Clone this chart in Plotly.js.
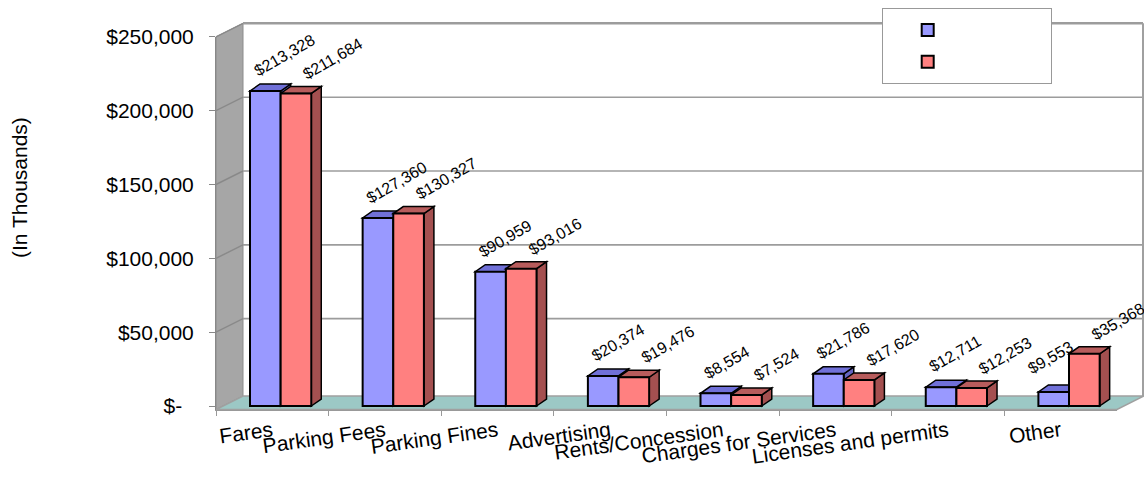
<!DOCTYPE html>
<html>
<head>
<meta charset="utf-8">
<script src="https://cdn.plot.ly/plotly-3.0.1.min.js"></script>
<style>html,body{margin:0;padding:0;background:#fff;}#chart{width:1144px;height:483px;}</style>
</head>
<body>
<div id="chart"></div>
<script>
// ---- data ----
const categories = ['Fares', 'Parking Fees', 'Parking Fines', 'Advertising', 'Rents/Concession', 'Charges for Services', 'Licenses and permits', 'Other'];
const seriesA = [213328, 127360, 90959, 20374, 8554, 21786, 12711, 9553];
const seriesB = [211684, 130327, 93016, 19476, 7524, 17620, 12253, 35368];
const seriesNames = ['\u00a0'.repeat(16), '\u00a0'.repeat(16)];
const yTickVals = [0, 50000, 100000, 150000, 200000, 250000];
const yTickText = ['$-\u00a0\u00a0', '$50,000', '$100,000', '$150,000', '$200,000', '$250,000'];
const yTitle = '(In Thousands)';

// ---- geometry / style ----
const W = 1144, H = 483;
const FONT = 'Liberation Sans, Arial, sans-serif';
const xL = 216, xR = 1117;            // front axis pixel extent
const yBot = 409.5, yTop = 36.85;     // front y-axis pixel extent
const yMin = -2370, yMax = 250000;
const pxPerUnit = (yBot - yTop) / (yMax - yMin);
const pxPerCat = (xR - xL) / categories.length;
const wallDX = 27, wallDY = 13.5;
const barW = 0.272, offA = -0.198, offB = offA + barW;
const depthX = 10 / pxPerCat, depthY = 7 / pxPerUnit;

const colA = '#9999ff', colATop = '#7070d8', colASide = '#6464c0';
const colB = '#ff8080', colBTop = '#b85c5c', colBSide = '#a45050';

const PX = px => px / W;
const PY = py => 1 - py / H;
const pyOf = v => yBot - (v - yMin) * pxPerUnit;

const shapes = [];
// left wall
const lw = `M${PX(xL)},${PY(yBot)} L${PX(xL)},${PY(pyOf(yMax))} L${PX(xL + wallDX)},${PY(pyOf(yMax) - wallDY)} L${PX(xL + wallDX)},${PY(yBot - wallDY)} Z`;
shapes.push({type: 'path', xref: 'paper', yref: 'paper', path: lw, fillcolor: '#a6a6a6', line: {color: '#8c8c8c', width: 1}, layer: 'below'});
// floor
const fl = `M${PX(xL)},${PY(yBot)} L${PX(xR)},${PY(yBot)} L${PX(xR + wallDX)},${PY(yBot - wallDY)} L${PX(xL + wallDX)},${PY(yBot - wallDY)} Z`;
shapes.push({type: 'path', xref: 'paper', yref: 'paper', path: fl, fillcolor: '#9cc8c5', line: {color: '#a0a0a0', width: 1.5}, layer: 'below'});
// grid lines on back wall and side wall
yTickVals.forEach(v => {
  if (v === 0) return;
  const yf = pyOf(v), yb = yf - wallDY;
  shapes.push({type: 'line', xref: 'paper', yref: 'paper', x0: PX(xL), y0: PY(yf), x1: PX(xL + wallDX), y1: PY(yb), line: {color: '#8a8a8a', width: 1.5}, layer: 'below'});
  shapes.push({type: 'line', xref: 'paper', yref: 'paper', x0: PX(xL + wallDX), y0: PY(yb), x1: PX(1143), y1: PY(yb), line: {color: '#9c9c9c', width: v === yMax ? 2.5 : 1.6}, layer: 'below'});
});
// back wall right edge
shapes.push({type: 'line', xref: 'paper', yref: 'paper', x0: PX(1143), y0: PY(pyOf(yMax) - wallDY), x1: PX(1143), y1: PY(yBot - wallDY), line: {color: '#a0a0a0', width: 2}, layer: 'below'});

// 3D faces of bars (drawn below the bar fronts)
function faces(off, vals, top, side) {
  vals.forEach((v, i) => {
    const l = i + off, r = l + barW;
    shapes.push({type: 'path', xref: 'x', yref: 'y', layer: 'below',
      path: `M${r},0 L${r + depthX},${depthY} L${r + depthX},${v + depthY} L${r},${v} Z`,
      fillcolor: side, line: {color: '#000', width: 1.5}});
    shapes.push({type: 'path', xref: 'x', yref: 'y', layer: 'below',
      path: `M${l},${v} L${r},${v} L${r + depthX},${v + depthY} L${l + depthX},${v + depthY} Z`,
      fillcolor: top, line: {color: '#000', width: 1.5}});
  });
}
faces(offA, seriesA, colATop, colASide);
faces(offB, seriesB, colBTop, colBSide);

const fmt = v => '$' + v.toLocaleString('en-US');
const annotations = [];
const labelFont = {family: FONT, size: 16, color: '#000'};
seriesA.forEach((v, i) => {
  // move the label left when the neighbouring bar is much taller (label would collide)
  const collide = (seriesB[i] - v) * pxPerUnit > 12;
  annotations.push({x: i + offA, y: v, xref: 'x', yref: 'y', text: fmt(v), showarrow: false, textangle: -30,
    xanchor: 'left', yanchor: 'bottom', xshift: collide ? -16 : -2, yshift: collide ? 12 : 9, font: labelFont});
});
seriesB.forEach((v, i) => annotations.push({x: i + offB, y: v, xref: 'x', yref: 'y', text: fmt(v), showarrow: false, textangle: -30,
  xanchor: 'left', yanchor: 'bottom', xshift: 17, yshift: 8, font: labelFont}));
annotations.push({xref: 'paper', yref: 'paper', x: PX(20), y: PY(188), xanchor: 'center', yanchor: 'middle', text: yTitle, showarrow: false, textangle: -90, font: {family: FONT, size: 21, color: '#000'}});

const traces = [
  {type: 'bar', name: seriesNames[0], x: categories, y: seriesA, offset: offA, width: barW,
   marker: {color: colA, line: {color: '#000', width: 2}}, hoverinfo: 'y'},
  {type: 'bar', name: seriesNames[1], x: categories, y: seriesB, offset: offB, width: barW,
   marker: {color: colB, line: {color: '#000', width: 2}}, hoverinfo: 'y'}
];

const layout = {
  width: W, height: H,
  margin: {l: 0, r: 0, t: 0, b: 0},
  paper_bgcolor: '#ffffff', plot_bgcolor: 'rgba(0,0,0,0)',
  font: {family: FONT, size: 20, color: '#000'},
  barmode: 'overlay',
  showlegend: true,
  legend: {x: PX(881.7), y: PY(8.3), xanchor: 'left', yanchor: 'top', bgcolor: '#ffffff',
           bordercolor: '#999999', borderwidth: 1, font: {family: FONT, size: 22}, indentation: 25},
  xaxis: {domain: [PX(xL), PX(xR)], range: [-0.5, categories.length - 0.5], type: 'category',
          automargin: false, showgrid: false, zeroline: false, showline: true, linecolor: '#999', linewidth: 1.5,
          ticks: 'outside', ticklen: 5, tickcolor: '#999', tickson: 'boundaries',
          tickangle: -8, tickfont: {family: FONT, size: 21, color: '#000'}},
  yaxis: {domain: [PY(yBot), PY(yTop)], range: [yMin, yMax], automargin: false,
          showgrid: false, zeroline: false, showline: true, linecolor: '#888', linewidth: 1,
          ticks: 'outside', ticklen: 6, tickcolor: '#888', tickvals: yTickVals, ticktext: yTickText,
          ticklabelstandoff: 11, tickfont: {family: FONT, size: 21, color: '#000'}},
  shapes: shapes,
  annotations: annotations
};

Plotly.newPlot('chart', traces, layout, {displayModeBar: false, staticPlot: true});
</script>
</body>
</html>
